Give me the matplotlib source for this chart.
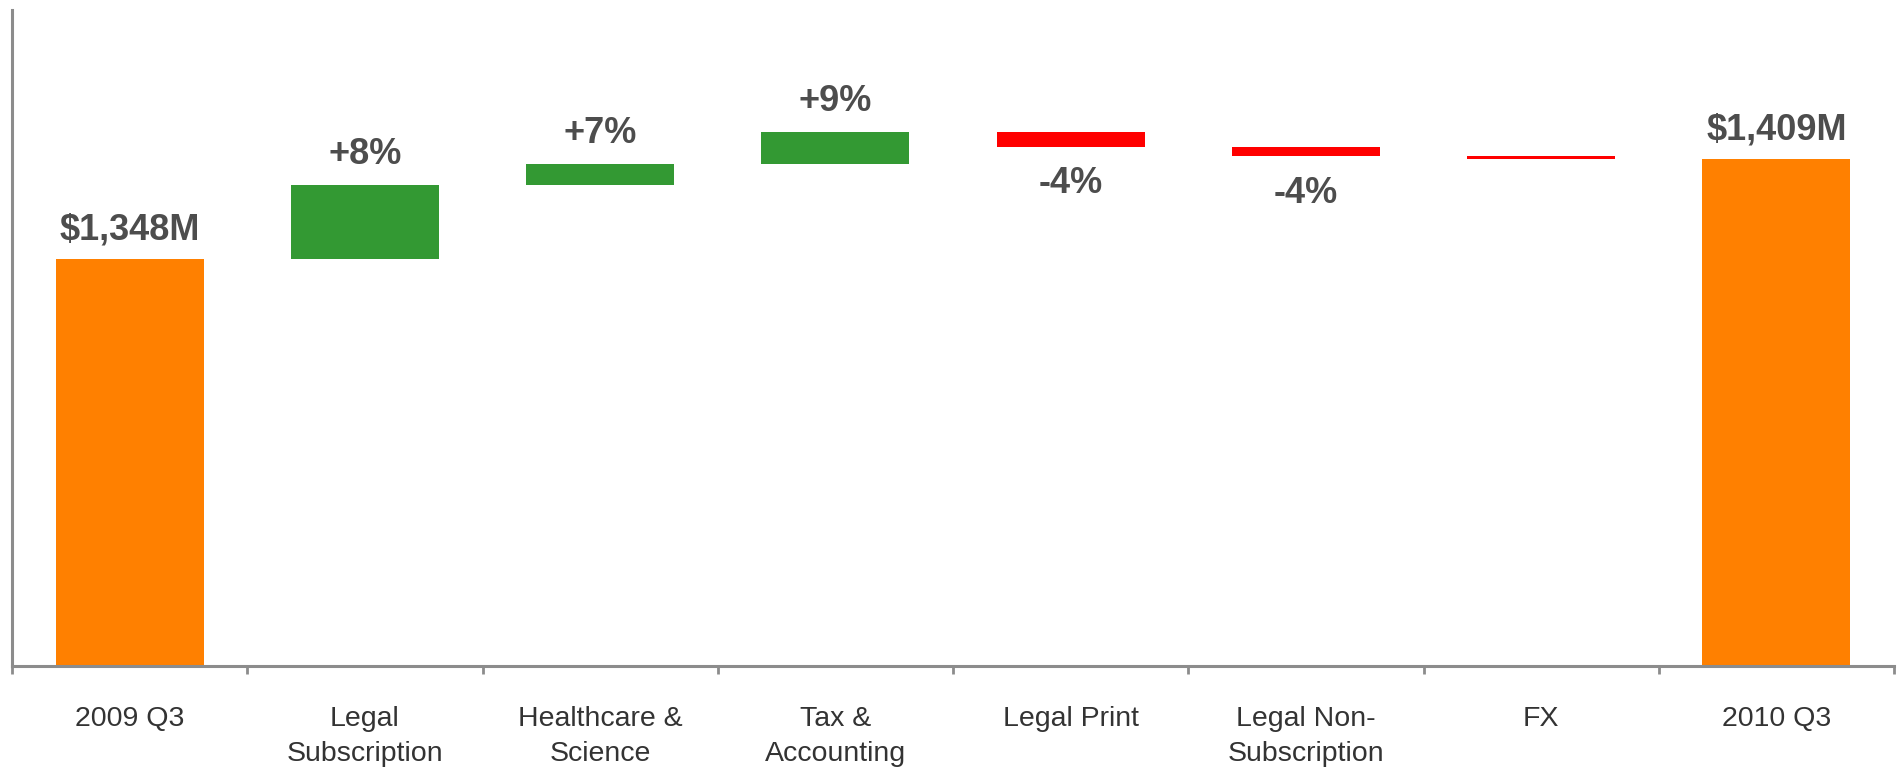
import numpy as np
import matplotlib.pyplot as plt

# Waterfall data ($M)
categories = ["2009 Q3", "Legal\nSubscription", "Healthcare &\nScience", "Tax &\nAccounting",
              "Legal Print", "Legal Non-\nSubscription", "FX", "2010 Q3"]
start_value = 1348
end_value = 1409
deltas = [45, 13, 19.5, -9, -5.7, -1.8]
delta_labels = ["+8%", "+7%", "+9%", "-4%", "-4%", ""]
total_labels = ["$1,348M", "$1,409M"]

orange = "#FF8000"
green = "#339933"
red = "#FF0000"
label_color = "#4D4D4D"
axis_color = "#8C8C8C"

plt.rcParams['font.family'] = ['Liberation Sans', 'DejaVu Sans']

fig = plt.figure(figsize=(19, 7.69), dpi=100)
ax = fig.add_axes([12 / 1900, 1 - 666 / 769, (1894 - 12) / 1900, (666 - 10) / 769])

x = np.arange(len(categories))
width = 0.63
y_low, y_high = 1100, 1500
label_size = 26

# Totals
ax.bar(x[0], start_value - y_low, bottom=y_low, width=width, color=orange, zorder=1)
ax.bar(x[-1], end_value - y_low, bottom=y_low, width=width, color=orange, zorder=1)
ax.annotate(total_labels[0], (x[0], start_value), xytext=(0, 21), textcoords="offset points",
            ha="center", va="center", fontsize=label_size, fontweight="bold", color=label_color)
ax.annotate(total_labels[1], (x[-1], end_value), xytext=(0, 21), textcoords="offset points",
            ha="center", va="center", fontsize=label_size, fontweight="bold", color=label_color)

# Floating deltas
level = start_value
for i, (d, lab) in enumerate(zip(deltas, delta_labels)):
    xi = x[i + 1]
    color = green if d > 0 else red
    ax.bar(xi, abs(d), bottom=min(level, level + d), width=width, color=color, zorder=1)
    if lab:
        if d > 0:
            ax.annotate(lab, (xi, level + d), xytext=(0, 22), textcoords="offset points",
                        ha="center", va="center", fontsize=label_size, fontweight="bold", color=label_color)
        else:
            ax.annotate(lab, (xi, level + d), xytext=(0, -26.5), textcoords="offset points",
                        ha="center", va="center", fontsize=label_size, fontweight="bold", color=label_color)
    level += d

ax.set_xlim(-0.5, len(categories) - 0.5)
ax.set_ylim(y_low, y_high)

# Tick marks at category boundaries, labels at centres
ax.set_xticks(np.arange(-0.5, len(categories)), labels=[""] * (len(categories) + 1))
ax.set_xticks(x, labels=categories, minor=True)
ax.tick_params(axis="x", which="major", direction="out", length=6, width=2, color=axis_color)
ax.tick_params(axis="x", which="minor", length=0, pad=29, labelsize=20.5, labelcolor="#333333")
for t in ax.get_xticklabels(minor=True):
    t.set_linespacing(1.42)
ax.set_yticks([])

for side in ["top", "right"]:
    ax.spines[side].set_visible(False)
for side in ["left", "bottom"]:
    ax.spines[side].set_color(axis_color)
    ax.spines[side].set_linewidth(2.2)

fig.savefig("out.png", dpi=100, facecolor="white")
